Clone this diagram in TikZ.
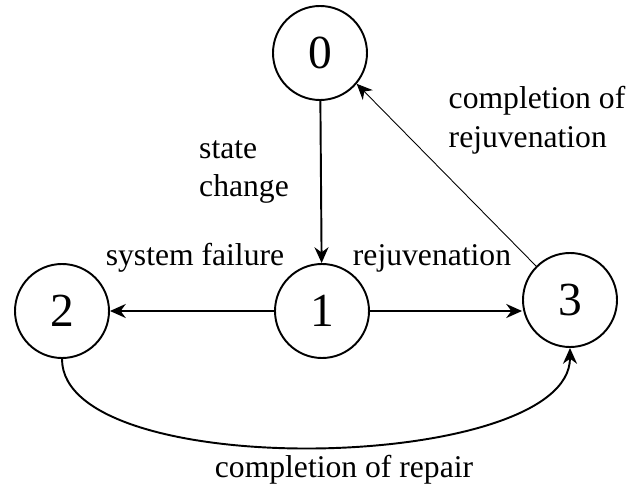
\documentclass[tikz,border=0pt]{standalone}
\usepackage{fontspec}
\setmainfont{Liberation Serif}
\usepackage{tikz}
\usetikzlibrary{arrows.meta,positioning}

\begin{document}
\begin{tikzpicture}[
  st/.style={draw, circle, line width=1.1pt, minimum size=1.88cm, inner sep=0pt, font=\fontsize{27}{30}\selectfont},
  lbl/.style={font=\fontsize{18}{22}\selectfont, inner sep=1pt},
  arr/.style={-{Stealth[length=9pt,width=8pt]}, line width=1.1pt},
  thinarr/.style={-{Stealth[length=9pt,width=8pt]}, line width=0.5pt}
]
  \useasboundingbox (0,0) rectangle (12.7,9.98);
  \node[st] (s0) at (6.40,8.92) {0};
  \node[st] (s1) at (6.44,3.76) {1};
  \node[st] (s2) at (1.24,3.76) {2};
  \node[st] (s3) at (11.40,3.98) {3};
  \node[lbl, align=left] (lchange) at (4.88,6.54) {state\\change};
  \node[lbl] (lfail) at (3.90,4.82) {system failure};
  \node[lbl] (lrej) at (8.64,4.82) {rejuvenation};
  \node[lbl, align=left] (lcrej) at (10.74,7.58) {completion of\\rejuvenation};
  \node[lbl] (lrep) at (6.88,0.58) {completion of repair};
  \draw[arr] (s0) -- (s1);
  \draw[arr] (s1) -- (s2);
  \draw[arr] (s1.east) -- (s1.east -| s3.west);
  \draw[thinarr] (s3.135) -- (s0.-40);
  \draw[arr] (s2.south) .. controls +(0,-2.5) and +(0,-2.5) .. (s3.south);
\end{tikzpicture}
\end{document}
